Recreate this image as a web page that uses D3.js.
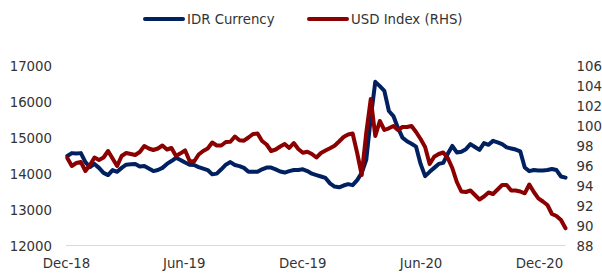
<!DOCTYPE html>
<html>
<head>
<meta charset="utf-8">
<script src="https://cdn.jsdelivr.net/npm/d3@7/dist/d3.min.js"></script>
<style>
  html, body { margin: 0; padding: 0; background: #fff; }
  svg { display: block; }
  text { font-family: "DejaVu Sans", Verdana, sans-serif; fill: #333; }
</style>
</head>
<body>
<svg id="chart" width="602" height="273"></svg>
<script>
// Weekly observations (Mondays) from 3 Dec 2018 to 11 Jan 2021
const firstDate = "2018-12-03";
const lastDate = "2021-01-11";

const seriesNames = ["IDR Currency", "USD Index (RHS)"];

// IDR per USD (left axis)
const idr = [
  14500, 14580, 14570, 14580, 14330, 14190, 14280, 14170, 14030, 13970,
  14110, 14060, 14170, 14260, 14270, 14280, 14210, 14220, 14150, 14080,
  14110, 14170, 14280, 14360, 14450, 14390, 14320, 14260, 14250, 14190,
  14150, 14110, 13990, 14010, 14130, 14260, 14330, 14250, 14220, 14170,
  14060, 14060, 14060, 14130, 14180, 14180, 14130, 14070, 14040, 14080,
  14110, 14110, 14130, 14080, 14010, 13970, 13930, 13890, 13740, 13650,
  13630, 13680, 13720, 13690, 13830, 14030, 14390, 15560, 16560, 16440,
  16310, 15750, 15610, 15280, 15010, 14910, 14840, 14760, 14280, 13940,
  14060, 14170, 14280, 14310, 14560, 14780, 14600, 14620, 14690, 14830,
  14750, 14670, 14860, 14810, 14920, 14880, 14830, 14740, 14710, 14680,
  14630, 14180, 14080, 14110, 14100, 14100, 14110, 14140, 14110, 13930,
  13900
];

// US Dollar Index (right axis)
const usd = [
  96.8, 96.0, 96.3, 96.4, 95.5, 96.1, 96.85, 96.6, 96.85, 97.5,
  96.75, 96.0, 97.0, 97.3, 97.2, 97.1, 97.4, 98.0, 97.75, 97.6,
  97.75, 98.05, 97.65, 97.8, 97.0, 97.27, 97.57, 96.5, 96.45, 97.15,
  97.5, 97.75, 98.35, 98.05, 98.05, 98.4, 98.43, 98.95, 98.57, 98.53,
  98.85, 99.2, 99.25, 98.5, 98.15, 97.5, 97.65, 97.95, 98.2, 97.8,
  98.3, 97.7, 97.33, 97.43, 97.2, 96.85, 97.3, 97.55, 97.77, 98.02,
  98.45, 98.9, 99.15, 99.25, 97.3, 95.1, 99.3, 102.7, 99.0, 100.5,
  99.6, 99.77, 100.0, 99.6, 99.9, 99.9, 100.0, 99.4, 98.7, 97.9,
  96.2, 96.93, 97.2, 97.35, 96.8, 95.8, 94.4, 93.45, 93.4, 93.55,
  93.1, 92.65, 92.95, 93.35, 93.2, 93.65, 94.1, 94.1, 93.55, 93.55,
  93.45, 93.27, 94.15, 93.4, 92.77, 92.45, 92.1, 91.2, 91.0, 90.6,
  89.77
];

const leftTicks = [12000, 13000, 14000, 15000, 16000, 17000];
const rightTicks = [88, 90, 92, 94, 96, 98, 100, 102, 104, 106];
const xTickLabels = ["Dec-18", "Jun-19", "Dec-19", "Jun-20", "Dec-20"];
const xTickDates = ["2018-12-01", "2019-06-01", "2019-12-01", "2020-06-01", "2020-12-01"];

const colors = { idr: "#002060", usd: "#8B0000" };

const parse = d3.timeParse("%Y-%m-%d");
const dates = d3.timeMonday.range(parse(firstDate), d3.timeDay.offset(parse(lastDate), 1));

const svg = d3.select("#chart");

const x = d3.scaleTime()
  .domain([parse(xTickDates[0]), parse(xTickDates[xTickDates.length - 1])])
  .range([66, 539]);
const yL = d3.scaleLinear().domain([12000, 17000]).range([246, 66]);
const yR = d3.scaleLinear().domain([88, 106]).range([246, 66]);

const fontSize = "13.3px";

// baseline
const xEnd = x(dates[dates.length - 1]);
svg.append("line")
  .attr("x1", x(parse(xTickDates[0]))).attr("x2", xEnd)
  .attr("y1", yL(12000) - 0.5).attr("y2", yL(12000) - 0.5)
  .attr("stroke", "#d9d9d9").attr("stroke-width", 1);

// left axis
const leftAxis = d3.axisLeft(yL).tickValues(leftTicks).tickSize(0).tickPadding(0).tickFormat(d3.format("d"));
const gL = svg.append("g").attr("transform", "translate(52,0)").call(leftAxis);
gL.select(".domain").remove();
gL.selectAll("text").style("font-size", fontSize).style("font-family", "DejaVu Sans, Verdana, sans-serif").attr("fill", "#333");

// right axis
const rightAxis = d3.axisRight(yR).tickValues(rightTicks).tickSize(0).tickPadding(0).tickFormat(d3.format("d"));
const gR = svg.append("g").attr("transform", "translate(576.5,0)").call(rightAxis);
gR.select(".domain").remove();
gR.selectAll("text").style("font-size", fontSize).style("font-family", "DejaVu Sans, Verdana, sans-serif").attr("fill", "#333");

// bottom axis
const bottomAxis = d3.axisBottom(x)
  .tickValues(xTickDates.map(parse))
  .tickSize(0).tickPadding(0)
  .tickFormat((d, i) => xTickLabels[i]);
const gB = svg.append("g").attr("transform", "translate(0,258.5)").call(bottomAxis);
gB.select(".domain").remove();
gB.selectAll("text").style("font-size", fontSize).style("font-family", "DejaVu Sans, Verdana, sans-serif").attr("fill", "#333");

// lines
const lineL = d3.line().x((d, i) => x(dates[i])).y(d => yL(d)).curve(d3.curveLinear);
const lineR = d3.line().x((d, i) => x(dates[i])).y(d => yR(d)).curve(d3.curveLinear);

svg.append("path").datum(idr)
  .attr("d", lineL).attr("fill", "none")
  .attr("stroke", colors.idr).attr("stroke-width", 4)
  .attr("stroke-linejoin", "round").attr("stroke-linecap", "round");

svg.append("path").datum(usd)
  .attr("d", lineR).attr("fill", "none")
  .attr("stroke", colors.usd).attr("stroke-width", 4)
  .attr("stroke-linejoin", "round").attr("stroke-linecap", "round");

// legend
const legendItems = [
  { name: seriesNames[0], color: colors.idr, x1: 145, x2: 183, tx: 187 },
  { name: seriesNames[1], color: colors.usd, x1: 309, x2: 347, tx: 351 }
];
const legY = 19;
const lg = svg.append("g");
legendItems.forEach(it => {
  lg.append("line")
    .attr("x1", it.x1).attr("x2", it.x2).attr("y1", legY).attr("y2", legY)
    .attr("stroke", it.color).attr("stroke-width", 4).attr("stroke-linecap", "round");
  lg.append("text")
    .attr("x", it.tx).attr("y", legY).attr("dy", "0.35em")
    .style("font-size", fontSize)
    .text(it.name);
});
</script>
</body>
</html>
